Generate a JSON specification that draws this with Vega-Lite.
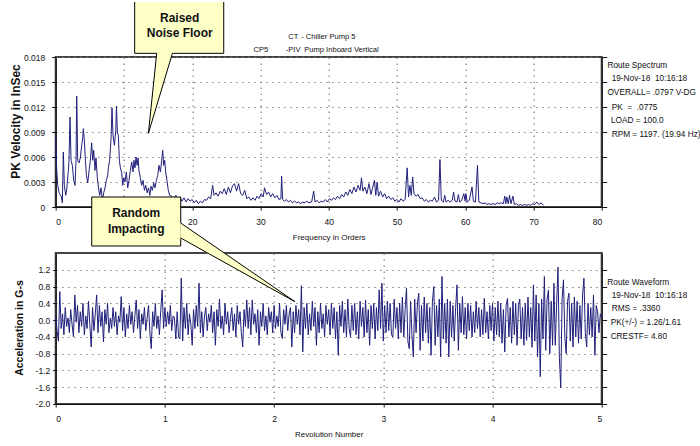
{
"$schema": "https://vega.github.io/schema/vega-lite/v6.json",
"background": "white",
"padding": {"left": 7.7, "top": 0, "right": 0, "bottom": 0},
"bounds": "flush",
"spacing": 46,
"config": {
  "view": {"stroke": "#444", "strokeWidth": 2},
  "axis": {"labelFont": "Liberation Sans, Arial, sans-serif", "labelFontSize": 8.5, "labelColor": "#111", "titleFont": "Liberation Sans, Arial, sans-serif", "titleFontSize": 8, "titleFontWeight": "normal", "titleColor": "#111", "domainColor": "#111", "domainWidth": 1.2, "tickColor": "#111", "tickSize": 3, "gridColor": "#808080", "gridDash": [1.5, 4.5], "gridWidth": 1.2},
  "text": {"font": "Liberation Sans, Arial, sans-serif", "fontSize": 8.3, "color": "#111", "align": "left", "baseline": "middle"}
},
"datasets": {
  "spectrum": [
    {"o":0,"v":0.0083},{"o":0.15,"v":0.0044},{"o":0.3,"v":0.0026},{"o":0.5,"v":0.0017},{"o":0.8,"v":0.0013},{"o":0.98,"v":0.0005},{"o":1.12,"v":0.0066},{"o":1.27,"v":0.0026},{"o":1.47,"v":0.0014},{"o":1.6,"v":0.002},{"o":1.86,"v":0.0044},{"o":1.95,"v":0.0056},{"o":2.1,"v":0.0108},{"o":2.25,"v":0.0056},{"o":2.44,"v":0.005},{"o":2.64,"v":0.0032},{"o":2.83,"v":0.0026},{"o":2.98,"v":0.0056},{"o":3.08,"v":0.0133},{"o":3.22,"v":0.0056},{"o":3.42,"v":0.0053},{"o":3.61,"v":0.0059},{"o":3.81,"v":0.0074},{"o":3.96,"v":0.0083},{"o":4.05,"v":0.0094},{"o":4.2,"v":0.008},{"o":4.35,"v":0.0056},{"o":4.5,"v":0.0038},{"o":4.69,"v":0.0029},{"o":4.9,"v":0.0044},{"o":5.08,"v":0.0056},{"o":5.27,"v":0.0077},{"o":5.42,"v":0.0056},{"o":5.57,"v":0.0068},{"o":5.76,"v":0.0044},{"o":5.9,"v":0.0059},{"o":6.1,"v":0.0035},{"o":6.25,"v":0.0024},{"o":6.45,"v":0.0014},{"o":6.64,"v":0.0023},{"o":6.84,"v":0.0008},{"o":7.03,"v":0.0017},{"o":7.23,"v":0.0023},{"o":7.42,"v":0.0032},{"o":7.62,"v":0.0038},{"o":7.72,"v":0.0047},{"o":7.9,"v":0.0056},{"o":8.1,"v":0.008},{"o":8.25,"v":0.0119},{"o":8.4,"v":0.0086},{"o":8.6,"v":0.0074},{"o":8.8,"v":0.0092},{"o":8.9,"v":0.0121},{"o":9.04,"v":0.0089},{"o":9.18,"v":0.0086},{"o":9.33,"v":0.0056},{"o":9.48,"v":0.0047},{"o":9.67,"v":0.0041},{"o":9.82,"v":0.0026},{"o":9.96,"v":0.0035},{"o":10.15,"v":0.003},{"o":10.35,"v":0.0042},{"o":10.55,"v":0.0023},{"o":10.74,"v":0.0032},{"o":10.94,"v":0.0044},{"o":11.14,"v":0.0054},{"o":11.33,"v":0.0042},{"o":11.47,"v":0.0056},{"o":11.62,"v":0.0047},{"o":11.77,"v":0.006},{"o":11.92,"v":0.005},{"o":12.07,"v":0.0059},{"o":12.2,"v":0.0044},{"o":12.4,"v":0.0035},{"o":12.6,"v":0.0026},{"o":12.8,"v":0.0032},{"o":13.0,"v":0.002},{"o":13.2,"v":0.0026},{"o":13.4,"v":0.0017},{"o":13.6,"v":0.0023},{"o":13.8,"v":0.0014},{"o":13.96,"v":0.0025},{"o":14.16,"v":0.002},{"o":14.36,"v":0.0029},{"o":14.55,"v":0.0023},{"o":14.75,"v":0.0032},{"o":14.95,"v":0.0038},{"o":15.14,"v":0.005},{"o":15.34,"v":0.0042},{"o":15.53,"v":0.0056},{"o":15.68,"v":0.0068},{"o":15.82,"v":0.005},{"o":15.97,"v":0.0056},{"o":16.12,"v":0.0042},{"o":16.3,"v":0.0032},{"o":16.5,"v":0.002},{"o":16.7,"v":0.0014},{"o":17.0,"v":0.0013},
    {"o":17.3,"v":0.0009},{"o":17.6,"v":0.0014},{"o":17.9,"v":0.0008},{"o":18.2,"v":0.0012},{"o":18.5,"v":0.0007},{"o":18.8,"v":0.0011},{"o":19.1,"v":0.0006},{"o":19.4,"v":0.001},{"o":19.7,"v":0.0007},{"o":20.0,"v":0.0009},{"o":20.3,"v":0.0005},{"o":20.6,"v":0.0008},{"o":20.9,"v":0.0004},{"o":21.2,"v":0.0007},{"o":21.5,"v":0.0005},{"o":21.8,"v":0.0009},{"o":22.1,"v":0.0008},{"o":22.4,"v":0.0012},{"o":22.7,"v":0.001},{"o":23.0,"v":0.0026},{"o":23.2,"v":0.0014},{"o":23.5,"v":0.0017},{"o":23.8,"v":0.0013},{"o":24.1,"v":0.0019},{"o":24.4,"v":0.0016},{"o":24.7,"v":0.0022},{"o":25.0,"v":0.0015},{"o":25.3,"v":0.0024},{"o":25.6,"v":0.0017},{"o":25.9,"v":0.0025},{"o":26.2,"v":0.0028},{"o":26.5,"v":0.0019},{"o":26.8,"v":0.0028},{"o":27.1,"v":0.0016},{"o":27.4,"v":0.0014},{"o":27.7,"v":0.002},{"o":28.0,"v":0.001},{"o":28.3,"v":0.0012},{"o":28.6,"v":0.0008},{"o":28.9,"v":0.0011},{"o":29.2,"v":0.0008},{"o":29.5,"v":0.0013},{"o":29.8,"v":0.001},{"o":30.1,"v":0.0016},{"o":30.4,"v":0.0012},{"o":30.6,"v":0.0023},{"o":30.9,"v":0.0015},{"o":31.2,"v":0.0018},{"o":31.5,"v":0.0012},{"o":31.8,"v":0.0016},{"o":32.1,"v":0.0011},{"o":32.4,"v":0.0014},{"o":32.7,"v":0.0009},{"o":33.0,"v":0.001},{"o":33.1,"v":0.0037},{"o":33.25,"v":0.0009},{"o":33.5,"v":0.0007},{"o":33.8,"v":0.0009},{"o":34.1,"v":0.0006},{"o":34.4,"v":0.0008},{"o":34.7,"v":0.0005},{"o":35.0,"v":0.0007},{"o":35.3,"v":0.0005},{"o":35.6,"v":0.0006},{"o":35.9,"v":0.0004},{"o":36.2,"v":0.0006},{"o":36.5,"v":0.0005},{"o":36.8,"v":0.0007},{"o":37.1,"v":0.0005},{"o":37.5,"v":0.0006},{"o":37.8,"v":0.0019},{"o":38.0,"v":0.0006},{"o":38.3,"v":0.0008},{"o":38.6,"v":0.0005},{"o":38.9,"v":0.0007},{"o":39.2,"v":0.0006},{"o":39.5,"v":0.0009},{"o":39.8,"v":0.0006},{"o":40.1,"v":0.001},{"o":40.4,"v":0.0008},{"o":40.7,"v":0.0011},{"o":41.0,"v":0.0009},{"o":41.3,"v":0.0013},{"o":41.6,"v":0.001},{"o":41.9,"v":0.0015},{"o":42.2,"v":0.0012},{"o":42.5,"v":0.0018},{"o":42.8,"v":0.0014},{"o":43.1,"v":0.0021},{"o":43.4,"v":0.0016},{"o":43.7,"v":0.0024},{"o":44.0,"v":0.0018},{"o":44.3,"v":0.0026},{"o":44.6,"v":0.002},{"o":44.8,"v":0.0035},{"o":45.0,"v":0.0019},{"o":45.3,"v":0.0024},{"o":45.6,"v":0.0016},{"o":45.9,"v":0.0028},{"o":46.2,"v":0.0015},{"o":46.4,"v":0.0022},{"o":46.7,"v":0.0032},{"o":46.9,"v":0.0014},{"o":47.1,"v":0.003},{"o":47.3,"v":0.0013},{"o":47.6,"v":0.0019},{"o":47.9,"v":0.0012},{"o":48.2,"v":0.0016},{"o":48.5,"v":0.001},{"o":48.8,"v":0.0013},{"o":49.1,"v":0.0009},{"o":49.4,"v":0.0011},{"o":49.7,"v":0.0007},{"o":50.0,"v":0.0009},{"o":50.3,"v":0.0006},{"o":50.6,"v":0.001},{"o":50.9,"v":0.0007},{"o":51.2,"v":0.0009},{"o":51.5,"v":0.0047},{"o":51.7,"v":0.0012},{"o":51.9,"v":0.0026},{"o":52.1,"v":0.0014},{"o":52.3,"v":0.0036},{"o":52.5,"v":0.0016},{"o":52.8,"v":0.0013},{"o":53.1,"v":0.0015},{"o":53.4,"v":0.001},{"o":53.7,"v":0.0011},{"o":54.0,"v":0.0007},{"o":54.3,"v":0.0009},{"o":54.6,"v":0.0006},{"o":54.9,"v":0.0008},{"o":55.2,"v":0.0007},{"o":55.5,"v":0.0012},{"o":55.8,"v":0.0006},{"o":56.1,"v":0.0008},{"o":56.3,"v":0.0057},{"o":56.5,"v":0.0008},{"o":56.8,"v":0.0006},{"o":57.0,"v":0.0014},{"o":57.2,"v":0.0006},{"o":57.5,"v":0.0008},{"o":57.8,"v":0.0006},{"o":58.1,"v":0.0008},{"o":58.3,"v":0.0018},{"o":58.5,"v":0.0007},{"o":58.8,"v":0.0006},{"o":59.0,"v":0.0015},{"o":59.2,"v":0.0006},{"o":59.5,"v":0.0008},{"o":59.8,"v":0.0016},{"o":60.0,"v":0.0007},{"o":60.1,"v":0.0016},{"o":60.3,"v":0.0006},{"o":60.6,"v":0.0008},{"o":61.0,"v":0.0024},{"o":61.2,"v":0.0007},{"o":61.5,"v":0.0006},{"o":61.8,"v":0.005},{"o":62.0,"v":0.0006},{"o":62.3,"v":0.0005},{"o":62.6,"v":0.0004},{"o":62.9,"v":0.0005},{"o":63.2,"v":0.0003},{"o":63.5,"v":0.0004},{"o":63.8,"v":0.0003},{"o":64.1,"v":0.0004},{"o":64.4,"v":0.0003},{"o":64.7,"v":0.0005},{"o":65.0,"v":0.0004},{"o":65.3,"v":0.0005},{"o":65.6,"v":0.0004},{"o":65.8,"v":0.0013},{"o":65.95,"v":0.0004},{"o":66.1,"v":0.0012},{"o":66.3,"v":0.0004},{"o":66.5,"v":0.0014},{"o":66.7,"v":0.0004},{"o":67.0,"v":0.0013},{"o":67.2,"v":0.0003},{"o":67.5,"v":0.0004},{"o":67.8,"v":0.0002},{"o":68.1,"v":0.0003},{"o":68.4,"v":0.0002},{"o":68.7,"v":0.0003},{"o":69.0,"v":0.0002},{"o":69.3,"v":0.0003},{"o":69.6,"v":0.0002},{"o":69.9,"v":0.0004},{"o":70.2,"v":0.0003},{"o":70.5,"v":0.0006},{"o":70.8,"v":0.0003},{"o":71.1,"v":0.0005},{"o":71.5,"v":0.0002}
  ],
  "waveform": [
    {"r":0,"g":0.1},{"r":0.0125,"g":-0.25},{"r":0.025,"g":-0.5},{"r":0.0375,"g":0.68},{"r":0.05,"g":-0.2},{"r":0.0625,"g":0.15},{"r":0.075,"g":-0.35},{"r":0.0875,"g":0.3},
    {"r":0.1,"g":-0.15},{"r":0.1125,"g":0.05},{"r":0.125,"g":-0.3},{"r":0.1375,"g":0.25},{"r":0.15,"g":-0.1},{"r":0.1625,"g":-0.4},{"r":0.175,"g":0.6},{"r":0.1875,"g":-0.05},
    {"r":0.2,"g":0.35},{"r":0.2125,"g":-0.3},{"r":0.225,"g":0.2},{"r":0.2375,"g":-0.15},{"r":0.25,"g":0.4},{"r":0.2625,"g":-0.35},{"r":0.275,"g":0.1},{"r":0.2875,"g":-0.2},
    {"r":0.3,"g":0.45},{"r":0.3125,"g":-0.1},{"r":0.325,"g":-0.64},{"r":0.3375,"g":0.3},{"r":0.35,"g":-0.25},{"r":0.3625,"g":0.15},{"r":0.375,"g":0.6},{"r":0.3875,"g":-0.3},
    {"r":0.4,"g":0.35},{"r":0.4125,"g":-0.15},{"r":0.425,"g":0.2},{"r":0.4375,"g":-0.52},{"r":0.45,"g":0.25},{"r":0.4625,"g":-0.1},{"r":0.475,"g":0.4},{"r":0.4875,"g":-0.3},
    {"r":0.5,"g":0.05},{"r":0.5125,"g":-0.2},{"r":0.525,"g":0.3},{"r":0.5375,"g":-0.15},{"r":0.55,"g":0.2},{"r":0.5625,"g":-0.35},{"r":0.575,"g":0.1},{"r":0.5875,"g":-0.05},
    {"r":0.6,"g":0.56},{"r":0.6125,"g":-0.25},{"r":0.625,"g":0.3},{"r":0.6375,"g":-0.4},{"r":0.65,"g":0.15},{"r":0.6625,"g":-0.2},{"r":0.675,"g":0.35},{"r":0.6875,"g":-0.1},
    {"r":0.7,"g":0.2},{"r":0.7125,"g":-0.3},{"r":0.725,"g":0.1},{"r":0.7375,"g":0.48},{"r":0.75,"g":-0.2},{"r":0.7625,"g":0.25},{"r":0.775,"g":-0.44},{"r":0.7875,"g":0.15},
    {"r":0.8,"g":-0.1},{"r":0.8125,"g":0.3},{"r":0.825,"g":-0.25},{"r":0.8375,"g":0.05},{"r":0.85,"g":0.35},{"r":0.8625,"g":-0.3},{"r":0.875,"g":-0.68},{"r":0.8875,"g":0.2},
    {"r":0.9,"g":-0.15},{"r":0.9125,"g":0.4},{"r":0.925,"g":-0.2},{"r":0.9375,"g":0.1},{"r":0.95,"g":-0.35},{"r":0.9625,"g":0.25},{"r":0.975,"g":0.72},{"r":0.9875,"g":-0.2},
    {"r":1.0,"g":0.3},{"r":1.0125,"g":-0.15},{"r":1.025,"g":0.2},{"r":1.0375,"g":-0.1},{"r":1.05,"g":0.35},{"r":1.0625,"g":-0.25},{"r":1.075,"g":0.1},{"r":1.0875,"g":0.05},
    {"r":1.1,"g":-0.45},{"r":1.1125,"g":0.2},{"r":1.125,"g":-0.4},{"r":1.1375,"g":-0.45},{"r":1.15,"g":1.0},{"r":1.1625,"g":-0.5},{"r":1.175,"g":0.3},{"r":1.1875,"g":-0.2},
    {"r":1.2,"g":0.4},{"r":1.2125,"g":-0.35},{"r":1.225,"g":0.15},{"r":1.2375,"g":-0.1},{"r":1.25,"g":-0.6},{"r":1.2625,"g":0.25},{"r":1.275,"g":-0.2},{"r":1.2875,"g":0.35},
    {"r":1.3,"g":-0.15},{"r":1.3125,"g":0.88},{"r":1.325,"g":-0.3},{"r":1.3375,"g":0.2},{"r":1.35,"g":-0.4},{"r":1.3625,"g":0.1},{"r":1.375,"g":0.3},{"r":1.3875,"g":-0.25},
    {"r":1.4,"g":0.15},{"r":1.4125,"g":-0.05},{"r":1.425,"g":0.35},{"r":1.4375,"g":-0.3},{"r":1.45,"g":0.2},{"r":1.4625,"g":-0.6},{"r":1.475,"g":0.25},{"r":1.4875,"g":-0.15},
    {"r":1.5,"g":0.5},{"r":1.5125,"g":-0.2},{"r":1.525,"g":0.1},{"r":1.5375,"g":-0.35},{"r":1.55,"g":0.4},{"r":1.5625,"g":-0.1},{"r":1.575,"g":0.2},{"r":1.5875,"g":-0.3},
    {"r":1.6,"g":0.05},{"r":1.6125,"g":0.3},{"r":1.625,"g":-0.25},{"r":1.6375,"g":0.15},{"r":1.65,"g":-0.4},{"r":1.6625,"g":0.35},{"r":1.675,"g":-0.1},{"r":1.6875,"g":0.2},
    {"r":1.7,"g":-0.3},{"r":1.7125,"g":-0.64},{"r":1.725,"g":0.25},{"r":1.7375,"g":-0.15},{"r":1.75,"g":0.48},{"r":1.7625,"g":-0.2},{"r":1.775,"g":0.3},{"r":1.7875,"g":-0.35},
    {"r":1.8,"g":0.48},{"r":1.8125,"g":-0.1},{"r":1.825,"g":0.15},{"r":1.8375,"g":-0.3},{"r":1.85,"g":0.25},{"r":1.8625,"g":-0.6},{"r":1.875,"g":0.2},{"r":1.8875,"g":-0.15},
    {"r":1.9,"g":0.4},{"r":1.9125,"g":-0.25},{"r":1.925,"g":0.1},{"r":1.9375,"g":-0.35},{"r":1.95,"g":0.3},{"r":1.9625,"g":-0.05},{"r":1.975,"g":0.2},{"r":1.9875,"g":-0.3},
    {"r":2.0,"g":0.35},{"r":2.0125,"g":-0.2},{"r":2.025,"g":0.1},{"r":2.0375,"g":-0.15},{"r":2.05,"g":0.4},{"r":2.0625,"g":-0.3},{"r":2.075,"g":-0.44},{"r":2.0875,"g":0.25},
    {"r":2.1,"g":-0.1},{"r":2.1125,"g":0.35},{"r":2.125,"g":-0.25},{"r":2.1375,"g":0.15},{"r":2.15,"g":0.3},{"r":2.1625,"g":-0.64},{"r":2.175,"g":0.2},{"r":2.1875,"g":-0.3},
    {"r":2.2,"g":0.35},{"r":2.2125,"g":-0.1},{"r":2.225,"g":0.25},{"r":2.2375,"g":-0.35},{"r":2.25,"g":0.82},{"r":2.2625,"g":-0.76},{"r":2.275,"g":0.3},{"r":2.2875,"g":-0.2},
    {"r":2.3,"g":0.4},{"r":2.3125,"g":-0.35},{"r":2.325,"g":0.15},{"r":2.3375,"g":-0.25},{"r":2.35,"g":0.45},{"r":2.3625,"g":-0.15},{"r":2.375,"g":0.3},{"r":2.3875,"g":-0.6},
    {"r":2.4,"g":0.2},{"r":2.4125,"g":-0.3},{"r":2.425,"g":0.4},{"r":2.4375,"g":-0.2},{"r":2.45,"g":0.15},{"r":2.4625,"g":-0.4},{"r":2.475,"g":0.35},{"r":2.4875,"g":-0.1},
    {"r":2.5,"g":0.25},{"r":2.5125,"g":-0.35},{"r":2.525,"g":0.4},{"r":2.5375,"g":-0.2},{"r":2.55,"g":0.3},{"r":2.5625,"g":-0.45},{"r":2.575,"g":0.2},{"r":2.5875,"g":-0.84},
    {"r":2.6,"g":0.35},{"r":2.6125,"g":-0.15},{"r":2.625,"g":0.45},{"r":2.6375,"g":-0.3},{"r":2.65,"g":0.25},{"r":2.6625,"g":-0.4},{"r":2.675,"g":0.5},{"r":2.6875,"g":-0.2},
    {"r":2.7,"g":-0.4},{"r":2.7125,"g":0.35},{"r":2.725,"g":-0.25},{"r":2.7375,"g":0.4},{"r":2.75,"g":-0.35},{"r":2.7625,"g":0.2},{"r":2.775,"g":-0.45},{"r":2.7875,"g":0.45},
    {"r":2.8,"g":-0.15},{"r":2.8125,"g":0.3},{"r":2.825,"g":-0.4},{"r":2.8375,"g":0.48},{"r":2.85,"g":-0.3},{"r":2.8625,"g":0.25},{"r":2.875,"g":-0.6},{"r":2.8875,"g":0.35},
    {"r":2.9,"g":-0.2},{"r":2.9125,"g":0.4},{"r":2.925,"g":-0.45},{"r":2.9375,"g":0.3},{"r":2.95,"g":-0.25},{"r":2.9625,"g":0.72},{"r":2.975,"g":-0.2},{"r":2.9875,"g":0.88},
    {"r":3.0,"g":-0.5},{"r":3.0125,"g":0.35},{"r":3.025,"g":-0.3},{"r":3.0375,"g":0.45},{"r":3.05,"g":-0.25},{"r":3.0625,"g":0.4},{"r":3.075,"g":-0.35},{"r":3.0875,"g":-0.4},
    {"r":3.1,"g":0.5},{"r":3.1125,"g":-0.2},{"r":3.125,"g":0.3},{"r":3.1375,"g":-0.45},{"r":3.15,"g":0.4},{"r":3.1625,"g":-0.3},{"r":3.175,"g":0.55},{"r":3.1875,"g":-0.4},
    {"r":3.2,"g":0.25},{"r":3.2125,"g":0.76},{"r":3.225,"g":-0.5},{"r":3.2375,"g":-0.68},{"r":3.25,"g":0.45},{"r":3.2625,"g":-0.35},{"r":3.275,"g":-0.88},{"r":3.2875,"g":0.5},
    {"r":3.3,"g":-0.3},{"r":3.3125,"g":0.4},{"r":3.325,"g":0.64},{"r":3.3375,"g":-0.72},{"r":3.35,"g":0.35},{"r":3.3625,"g":-0.5},{"r":3.375,"g":0.55},{"r":3.3875,"g":-0.3},
    {"r":3.4,"g":0.4},{"r":3.4125,"g":-0.55},{"r":3.425,"g":0.3},{"r":3.4375,"g":-0.84},{"r":3.45,"g":0.45},{"r":3.4625,"g":0.8},{"r":3.475,"g":-0.6},{"r":3.4875,"g":0.35},
    {"r":3.5,"g":-0.4},{"r":3.5125,"g":0.5},{"r":3.525,"g":-0.88},{"r":3.5375,"g":1.04},{"r":3.55,"g":-0.45},{"r":3.5625,"g":0.4},{"r":3.575,"g":-0.55},{"r":3.5875,"g":0.5},
    {"r":3.6,"g":-0.88},{"r":3.6125,"g":0.45},{"r":3.625,"g":-0.4},{"r":3.6375,"g":0.35},{"r":3.65,"g":-0.5},{"r":3.6625,"g":0.3},{"r":3.675,"g":0.84},{"r":3.6875,"g":-0.72},
    {"r":3.7,"g":0.4},{"r":3.7125,"g":-0.3},{"r":3.725,"g":0.56},{"r":3.7375,"g":-0.35},{"r":3.75,"g":0.3},{"r":3.7625,"g":-0.45},{"r":3.775,"g":0.4},{"r":3.7875,"g":-0.25},
    {"r":3.8,"g":0.35},{"r":3.8125,"g":-0.4},{"r":3.825,"g":0.2},{"r":3.8375,"g":-0.3},{"r":3.85,"g":0.45},{"r":3.8625,"g":-0.2},{"r":3.875,"g":0.3},{"r":3.8875,"g":-0.4},
    {"r":3.9,"g":0.25},{"r":3.9125,"g":-0.35},{"r":3.925,"g":0.52},{"r":3.9375,"g":-0.3},{"r":3.95,"g":0.2},{"r":3.9625,"g":-0.45},{"r":3.975,"g":0.35},{"r":3.9875,"g":-0.25},
    {"r":4.0,"g":0.4},{"r":4.0125,"g":-0.5},{"r":4.025,"g":0.3},{"r":4.0375,"g":-0.35},{"r":4.05,"g":0.45},{"r":4.0625,"g":-0.4},{"r":4.075,"g":0.4},{"r":4.0875,"g":-0.55},
    {"r":4.1,"g":0.25},{"r":4.1125,"g":-0.76},{"r":4.125,"g":0.35},{"r":4.1375,"g":0.52},{"r":4.15,"g":-0.4},{"r":4.1625,"g":0.3},{"r":4.175,"g":-0.55},{"r":4.1875,"g":0.45},
    {"r":4.2,"g":-0.35},{"r":4.2125,"g":0.4},{"r":4.225,"g":-0.6},{"r":4.2375,"g":0.35},{"r":4.25,"g":0.5},{"r":4.2625,"g":-0.45},{"r":4.275,"g":0.3},{"r":4.2875,"g":-0.6},
    {"r":4.3,"g":0.4},{"r":4.3125,"g":-0.48},{"r":4.325,"g":0.55},{"r":4.3375,"g":-0.4},{"r":4.35,"g":0.3},{"r":4.3625,"g":-0.65},{"r":4.375,"g":0.84},{"r":4.3875,"g":-0.5},
    {"r":4.4,"g":0.6},{"r":4.4125,"g":-0.88},{"r":4.425,"g":0.4},{"r":4.4375,"g":-1.35},{"r":4.45,"g":0.5},{"r":4.4625,"g":-0.45},{"r":4.475,"g":1.04},{"r":4.4875,"g":-0.72},
    {"r":4.5,"g":0.5},{"r":4.5125,"g":0.72},{"r":4.525,"g":-0.8},{"r":4.5375,"g":0.45},{"r":4.55,"g":-0.6},{"r":4.5625,"g":0.88},{"r":4.575,"g":-0.6},{"r":4.5875,"g":0.4},
    {"r":4.6,"g":1.26},{"r":4.6125,"g":-0.9},{"r":4.625,"g":-1.61},{"r":4.6375,"g":0.5},{"r":4.65,"g":0.96},{"r":4.6625,"g":-0.4},{"r":4.675,"g":-0.8},{"r":4.6875,"g":0.45},
    {"r":4.7,"g":0.64},{"r":4.7125,"g":-0.5},{"r":4.725,"g":0.4},{"r":4.7375,"g":-0.64},{"r":4.75,"g":0.55},{"r":4.7625,"g":-0.4},{"r":4.775,"g":0.45},{"r":4.7875,"g":-0.55},
    {"r":4.8,"g":0.35},{"r":4.8125,"g":-0.45},{"r":4.825,"g":0.6},{"r":4.8375,"g":1.0},{"r":4.85,"g":-0.3},{"r":4.8625,"g":-0.64},{"r":4.875,"g":0.4},{"r":4.8875,"g":-0.35},
    {"r":4.9,"g":0.3},{"r":4.9125,"g":-0.4},{"r":4.925,"g":0.6},{"r":4.9375,"g":-0.84},{"r":4.95,"g":0.35},{"r":4.9625,"g":0.2},{"r":4.975,"g":-0.3},{"r":4.9875,"g":0.15},
    {"r":5.0,"g":0.05}
  ],
  "ptr1": [{"o":13.58,"a":0.00884,"b":0.00884},{"o":14.8,"a":0.0187,"b":0.01217},{"o":17.1,"a":0.0187,"b":0.01844}],
  "ptr2": [{"r":1.14,"a":2.33,"b":1.945},{"r":2.191,"a":0.439,"b":0.439}]
},
"vconcat": [
  {
    "width": 546, "height": 150,
    "resolve": {"axis": {"y": "independent"}},
    "layer": [
      {"data": {"name": "spectrum"}, "mark": {"type": "line", "color": "#1f1f7a", "strokeWidth": 1},
       "encoding": {
         "x": {"field": "o", "type": "quantitative", "scale": {"domain": [0, 80], "nice": false, "zero": false},
               "axis": {"values": [0,10,20,30,40,50,60,70,80], "labelExpr": "datum.value == 10 ? '' : format(datum.value, 'd')", "title": "Frequency in Orders", "labelPadding": 8, "titlePadding": 7, "grid": true}},
         "y": {"field": "v", "type": "quantitative", "scale": {"domain": [0, 0.018], "nice": false, "zero": false},
               "axis": {"values": [0,0.003,0.006,0.009,0.012,0.015,0.018], "labelExpr": "datum.value == 0 ? '0' : format(datum.value, '.3f')", "title": "PK Velocity in InSec", "titleFont": "Liberation Sans, Arial, sans-serif", "titleFontWeight": "bold", "titleFontSize": 12, "titleAngle": 270, "titleX": -40.3, "titleY": 64, "titleAlign": "center", "titleBaseline": "middle", "tickSize": 4, "labelPadding": 7, "grid": true}}
       }},
      {"data": {"name": "spectrum"}, "mark": {"type": "line", "opacity": 0},
       "encoding": {
         "x": {"field": "o", "type": "quantitative"},
         "y": {"field": "v", "type": "quantitative", "axis": {"orient": "right", "values": [0,0.003,0.006,0.009,0.012,0.015,0.018], "labels": false, "title": null, "grid": false, "tickSize": 5}}
       }},
      {"data": {"values": [{}]},
       "layer": [
        {"mark": {"type": "rect", "fill": "#FFFFC8"},
         "encoding": {"x": {"datum": 11.57, "type": "quantitative"}, "x2": {"datum": 24.62}, "y": {"datum": 0.0246, "type": "quantitative", "axis": null}, "y2": {"datum": 0.01844}}},
        {"data": {"name": "ptr1"}, "mark": {"type": "area", "fill": "#FFFFC8", "orient": "vertical"},
         "encoding": {"x": {"field": "o", "type": "quantitative"}, "y": {"field": "a", "type": "quantitative", "axis": null}, "y2": {"field": "b"}}},
        {"mark": {"type": "rule", "color": "#000", "strokeWidth": 1},
         "encoding": {"x": {"datum": 11.57, "type": "quantitative"}, "y": {"datum": 0.0246, "type": "quantitative", "axis": null}, "y2": {"datum": 0.01844}}},
        {"mark": {"type": "rule", "color": "#000", "strokeWidth": 1},
         "encoding": {"x": {"datum": 24.62, "type": "quantitative"}, "y": {"datum": 0.0246, "type": "quantitative", "axis": null}, "y2": {"datum": 0.01844}}},
        {"mark": {"type": "rule", "color": "#000", "strokeWidth": 1},
         "encoding": {"x": {"datum": 11.57, "type": "quantitative"}, "x2": {"datum": 14.8}, "y": {"datum": 0.01844, "type": "quantitative", "axis": null}}},
        {"mark": {"type": "rule", "color": "#000", "strokeWidth": 1},
         "encoding": {"x": {"datum": 17.1, "type": "quantitative"}, "x2": {"datum": 24.62}, "y": {"datum": 0.01844, "type": "quantitative", "axis": null}}},
        {"mark": {"type": "rule", "color": "#000", "strokeWidth": 1},
         "encoding": {"x": {"datum": 13.58, "type": "quantitative"}, "x2": {"datum": 14.8}, "y": {"datum": 0.00884, "type": "quantitative", "axis": null}, "y2": {"datum": 0.01844}}},
        {"mark": {"type": "rule", "color": "#000", "strokeWidth": 1},
         "encoding": {"x": {"datum": 13.58, "type": "quantitative"}, "x2": {"datum": 17.1}, "y": {"datum": 0.00884, "type": "quantitative", "axis": null}, "y2": {"datum": 0.01844}}},
        {"mark": {"type": "text", "text": "Raised", "fontWeight": "bold", "fontSize": 12, "align": "center"},
         "encoding": {"x": {"datum": 18.17, "type": "quantitative"}, "y": {"datum": 0.02268, "type": "quantitative", "axis": null}}},
        {"mark": {"type": "text", "text": "Noise Floor", "fontWeight": "bold", "fontSize": 12, "align": "center"},
         "encoding": {"x": {"datum": 18.17, "type": "quantitative"}, "y": {"datum": 0.02088, "type": "quantitative", "axis": null}}},
        {"mark": {"type": "text", "text": "CT", "fontSize": 7.6},
         "encoding": {"x": {"datum": 34.09, "type": "quantitative"}, "y": {"datum": 0.020436, "type": "quantitative", "axis": null}}},
        {"mark": {"type": "text", "text": "- Chiller Pump 5", "fontSize": 7.6},
         "encoding": {"x": {"datum": 35.97, "type": "quantitative"}, "y": {"datum": 0.020436, "type": "quantitative", "axis": null}}},
        {"mark": {"type": "text", "text": "CP5", "fontSize": 7.6},
         "encoding": {"x": {"datum": 28.97, "type": "quantitative"}, "y": {"datum": 0.01884, "type": "quantitative", "axis": null}}},
        {"mark": {"type": "text", "text": "-PIV", "fontSize": 7.6},
         "encoding": {"x": {"datum": 33.7, "type": "quantitative"}, "y": {"datum": 0.01884, "type": "quantitative", "axis": null}}},
        {"mark": {"type": "text", "text": "Pump Inboard Vertical", "fontSize": 7.6},
         "encoding": {"x": {"datum": 36.41, "type": "quantitative"}, "y": {"datum": 0.01884, "type": "quantitative", "axis": null}}},
        {"mark": {"type": "text", "text": "Route Spectrum"},
         "encoding": {"x": {"datum": 80.84, "type": "quantitative"}, "y": {"datum": 0.01692, "type": "quantitative", "axis": null}}},
        {"mark": {"type": "text", "text": "19-Nov-18 \u00a010:16:18"},
         "encoding": {"x": {"datum": 81.46, "type": "quantitative"}, "y": {"datum": 0.01532, "type": "quantitative", "axis": null}}},
        {"mark": {"type": "text", "text": "OVERALL= .0797 V-DG"},
         "encoding": {"x": {"datum": 80.84, "type": "quantitative"}, "y": {"datum": 0.01364, "type": "quantitative", "axis": null}}},
        {"mark": {"type": "text", "text": "PK \u00a0= \u00a0.0775"},
         "encoding": {"x": {"datum": 81.46, "type": "quantitative"}, "y": {"datum": 0.01192, "type": "quantitative", "axis": null}}},
        {"mark": {"type": "text", "text": "LOAD = 100.0"},
         "encoding": {"x": {"datum": 81.36, "type": "quantitative"}, "y": {"datum": 0.01032, "type": "quantitative", "axis": null}}},
        {"mark": {"type": "text", "text": "RPM = 1197. (19.94 Hz)"},
         "encoding": {"x": {"datum": 81.46, "type": "quantitative"}, "y": {"datum": 0.00864, "type": "quantitative", "axis": null}}}
       ]}
    ]
  },
  {
    "width": 546, "height": 151,
    "resolve": {"axis": {"y": "independent"}},
    "layer": [
      {"data": {"name": "waveform"}, "mark": {"type": "line", "color": "#1f1f7a", "strokeWidth": 1},
       "encoding": {
         "x": {"field": "r", "type": "quantitative", "scale": {"domain": [0, 5], "nice": false, "zero": false},
               "axis": {"values": [0,1,2,3,4,5], "format": "d", "title": "Revolution Number", "labelPadding": 8, "titlePadding": 7, "grid": true}},
         "y": {"field": "g", "type": "quantitative", "scale": {"domain": [-2.0, 1.6], "nice": false, "zero": false},
               "axis": {"values": [-2.0,-1.6,-1.2,-0.8,-0.4,0,0.4,0.8,1.2], "labelExpr": "(datum.value < 0 ? '-' : '') + format(abs(datum.value), '.1f')", "title": "Acceleration in G-s", "titleFont": "Liberation Sans, Arial, sans-serif", "titleFontWeight": "bold", "titleFontSize": 10.5, "titleAngle": 270, "titleX": -36.5, "titleY": 74.5, "titleAlign": "center", "titleBaseline": "middle", "tickSize": 3, "labelPadding": 3, "grid": true}}
       }},
      {"data": {"name": "waveform"}, "mark": {"type": "line", "opacity": 0},
       "encoding": {
         "x": {"field": "r", "type": "quantitative"},
         "y": {"field": "g", "type": "quantitative", "axis": {"orient": "right", "values": [-2.0,-1.6,-1.2,-0.8,-0.4,0,0.4,0.8,1.2], "labels": false, "title": null, "grid": false, "tickSize": 5}}
       }},
      {"data": {"values": [{}]},
       "layer": [
        {"mark": {"type": "rect", "fill": "#FFFFC8", "stroke": "#000", "strokeWidth": 1},
         "encoding": {"x": {"datum": 0.33, "type": "quantitative"}, "x2": {"datum": 1.145}, "y": {"datum": 2.935, "type": "quantitative", "axis": null}, "y2": {"datum": 1.767}}},
        {"data": {"name": "ptr2"}, "mark": {"type": "area", "fill": "#FFFFC8", "orient": "vertical"},
         "encoding": {"x": {"field": "r", "type": "quantitative"}, "y": {"field": "a", "type": "quantitative", "axis": null}, "y2": {"field": "b"}}},
        {"mark": {"type": "rule", "color": "#000", "strokeWidth": 1},
         "encoding": {"x": {"datum": 1.145, "type": "quantitative"}, "x2": {"datum": 2.191}, "y": {"datum": 2.315, "type": "quantitative", "axis": null}, "y2": {"datum": 0.439}}},
        {"mark": {"type": "rule", "color": "#000", "strokeWidth": 1},
         "encoding": {"x": {"datum": 1.145, "type": "quantitative"}, "x2": {"datum": 2.191}, "y": {"datum": 1.958, "type": "quantitative", "axis": null}, "y2": {"datum": 0.439}}},
        {"mark": {"type": "text", "text": "Random", "fontWeight": "bold", "fontSize": 12, "align": "center"},
         "encoding": {"x": {"datum": 0.737, "type": "quantitative"}, "y": {"datum": 2.554, "type": "quantitative", "axis": null}}},
        {"mark": {"type": "text", "text": "Impacting", "fontWeight": "bold", "fontSize": 12, "align": "center"},
         "encoding": {"x": {"datum": 0.737, "type": "quantitative"}, "y": {"datum": 2.172, "type": "quantitative", "axis": null}}},
        {"mark": {"type": "text", "text": "Route Waveform"},
         "encoding": {"x": {"datum": 5.052, "type": "quantitative"}, "y": {"datum": 0.892, "type": "quantitative", "axis": null}}},
        {"mark": {"type": "text", "text": "19-Nov-18 \u00a010:16:18"},
         "encoding": {"x": {"datum": 5.092, "type": "quantitative"}, "y": {"datum": 0.582, "type": "quantitative", "axis": null}}},
        {"mark": {"type": "text", "text": "RMS = .3360"},
         "encoding": {"x": {"datum": 5.092, "type": "quantitative"}, "y": {"datum": 0.258, "type": "quantitative", "axis": null}}},
        {"mark": {"type": "text", "text": "PK(+/-) = 1.26/1.61"},
         "encoding": {"x": {"datum": 5.082, "type": "quantitative"}, "y": {"datum": -0.062, "type": "quantitative", "axis": null}}},
        {"mark": {"type": "text", "text": "CRESTF= 4.80"},
         "encoding": {"x": {"datum": 5.082, "type": "quantitative"}, "y": {"datum": -0.41, "type": "quantitative", "axis": null}}}
       ]}
    ]
  }
]
}
